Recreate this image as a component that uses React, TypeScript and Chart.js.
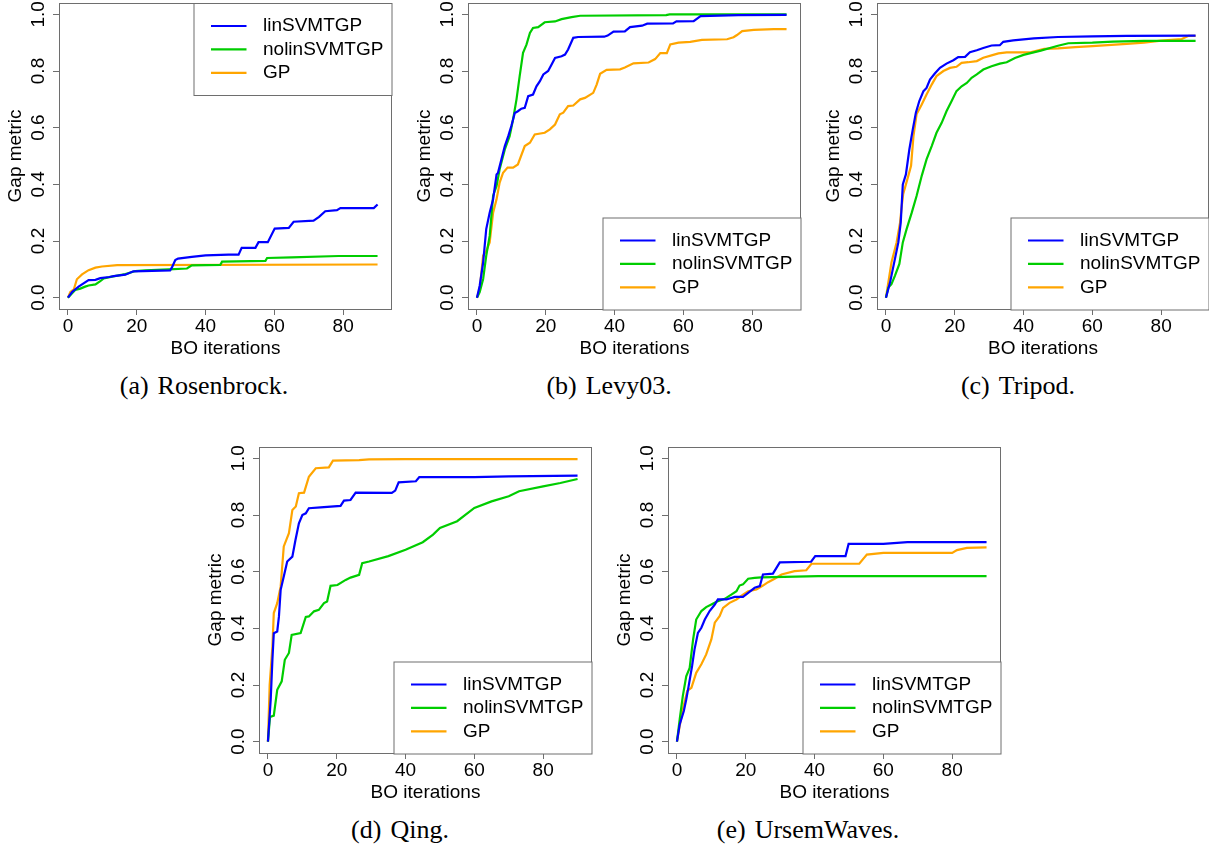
import React, { useEffect, useRef } from "react";
import { Chart, registerables } from "chart.js";

Chart.register(...registerables);

// ---------- shared labels / ticks ----------
const SERIES_LABELS = ["linSVMTGP", "nolinSVMTGP", "GP"];
const SERIES_COLORS = ["#0000FF", "#00CD00", "#FFA500"];
const X_TICKS = [0, 20, 40, 60, 80];
const Y_TICKS = [0, 0.2, 0.4, 0.6, 0.8, 1.0];
const X_AXIS_TITLE = "BO iterations";
const Y_AXIS_TITLE = "Gap metric";

// ---------- (a) Rosenbrock ----------
const rosenbrockLin = [[0,0],[1.2,0.02],[3.1,0.039],[6,0.062],[8,0.063],[9.4,0.069],[12,0.073],[13.3,0.076],[16.7,0.081],[19,0.093],[29.7,0.096],[30.2,0.106],[31.2,0.133],[32,0.138],[36,0.144],[40,0.149],[46.7,0.152],[49.6,0.152],[50.5,0.176],[54.5,0.176],[55.4,0.196],[58.1,0.196],[60.1,0.244],[64.2,0.246],[65.6,0.268],[71.4,0.272],[73,0.285],[74.8,0.305],[78.2,0.309],[79.2,0.316],[88.9,0.316],[90,0.329]];
const rosenbrockNolin = [[0,0],[2.1,0.027],[3.6,0.032],[5,0.039],[6,0.043],[8,0.047],[9.4,0.058],[10.4,0.068],[12.8,0.074],[16.7,0.083],[19.6,0.094],[22.5,0.096],[29.3,0.1],[34.6,0.103],[36,0.114],[44.3,0.116],[44.8,0.127],[57.4,0.13],[57.9,0.14],[65,0.142],[78.7,0.147],[90,0.147]];
const rosenbrockGP = [[0,0],[0.7,0.02],[1.7,0.029],[2.6,0.065],[4.1,0.082],[6,0.097],[8,0.106],[9.9,0.11],[14.3,0.115],[90,0.117]];

// ---------- (b) Levy03 ----------
const levyLin = [[0,0],[0.8,0.042],[1.8,0.124],[2.7,0.242],[3.7,0.3],[4.7,0.347],[5.7,0.435],[6.1,0.44],[7.1,0.488],[8.1,0.535],[9.1,0.57],[10,0.606],[11,0.652],[11.9,0.658],[12.9,0.667],[13.9,0.67],[14.9,0.711],[16.3,0.717],[17.3,0.746],[18.3,0.764],[19.3,0.788],[20.7,0.8],[21.7,0.823],[22.7,0.846],[24.6,0.852],[25.6,0.858],[26.5,0.876],[28,0.917],[29.4,0.92],[37,0.921],[38,0.925],[39.7,0.939],[43,0.94],[44.5,0.955],[48,0.96],[49.5,0.967],[57,0.968],[58,0.975],[63,0.976],[65,0.994],[76,0.997],[90,0.998]];
const levyNolin = [[0,0],[0.8,0.02],[1.8,0.066],[2.7,0.148],[3.7,0.218],[4.7,0.36],[5.7,0.394],[6.6,0.453],[8.1,0.523],[9.5,0.57],[10.5,0.629],[11.5,0.7],[12.4,0.78],[13.4,0.864],[14.4,0.893],[15.4,0.934],[16.3,0.952],[17.8,0.955],[19.7,0.972],[22.7,0.975],[24.6,0.983],[27.5,0.99],[30,0.995],[55,0.997],[56,1.0],[90,1.0]];
const levyGP = [[0,0],[0.8,0.03],[1.8,0.148],[2.7,0.165],[3.7,0.195],[4.7,0.3],[5.7,0.347],[6.6,0.406],[7.6,0.441],[8.9,0.459],[10.5,0.459],[11.9,0.47],[13.9,0.535],[15.4,0.547],[16.8,0.576],[19.7,0.582],[21.2,0.594],[22.7,0.611],[24.1,0.647],[25.1,0.653],[26.5,0.676],[28,0.678],[30,0.7],[31.4,0.705],[33.8,0.723],[34.8,0.752],[35.8,0.79],[37.7,0.804],[41.6,0.806],[43,0.812],[45.5,0.827],[49.9,0.83],[51.8,0.842],[53.3,0.863],[55.2,0.863],[56.2,0.894],[58.6,0.9],[62,0.903],[65.4,0.91],[72.7,0.912],[74.6,0.919],[75.6,0.927],[77.1,0.941],[80.5,0.945],[86.3,0.948],[90,0.948]];

// ---------- (c) Tripod ----------
const tripodLin = [[0,0],[1.2,0.054],[2.6,0.136],[3.6,0.195],[4.3,0.265],[4.9,0.4],[5.8,0.435],[6.8,0.523],[7.8,0.594],[8.7,0.653],[9.7,0.694],[10.9,0.729],[11.8,0.74],[12.8,0.77],[14.2,0.791],[15.7,0.811],[17.6,0.826],[19.6,0.838],[21,0.849],[23,0.85],[24.4,0.866],[26.4,0.873],[28.3,0.881],[30.7,0.89],[33.1,0.891],[34.1,0.903],[37,0.908],[43,0.915],[50,0.92],[60,0.922],[70,0.924],[90,0.925]];
const tripodNolin = [[0,0],[0.7,0.036],[1.6,0.048],[2.6,0.077],[3.9,0.119],[4.9,0.195],[6,0.242],[7.5,0.3],[8.9,0.359],[10.4,0.43],[11.8,0.488],[13.3,0.535],[14.7,0.582],[16.2,0.617],[17.6,0.658],[19.1,0.694],[20.5,0.729],[22,0.746],[23.5,0.758],[24.9,0.776],[26.4,0.788],[28.3,0.805],[30.7,0.817],[33.1,0.826],[35.1,0.831],[37.5,0.846],[40,0.857],[45,0.872],[50,0.889],[53,0.898],[60,0.9],[66,0.904],[75,0.906],[90,0.906]];
const tripodGP = [[0,0],[1.6,0.124],[3.1,0.195],[4.1,0.265],[4.6,0.324],[5,0.365],[6.5,0.43],[7.3,0.465],[8,0.57],[8.9,0.647],[10.4,0.682],[11.8,0.717],[13.3,0.752],[14.7,0.782],[16.7,0.8],[18.6,0.811],[20.5,0.815],[22,0.829],[23.9,0.831],[26.4,0.835],[28.3,0.847],[30.7,0.855],[32.7,0.862],[35.1,0.866],[42,0.866],[46,0.878],[50,0.88],[55,0.884],[60,0.888],[70,0.896],[75,0.9],[80,0.907],[86,0.913],[88,0.924],[90,0.924]];

// ---------- (d) Qing ----------
const qingLin = [[0,0],[0.8,0.148],[1.3,0.289],[1.7,0.383],[2.7,0.389],[3.2,0.442],[3.7,0.536],[4.6,0.583],[5.6,0.636],[7.1,0.653],[8,0.712],[9,0.771],[10,0.8],[11,0.806],[11.9,0.824],[15.3,0.827],[21.1,0.832],[22.1,0.851],[24,0.853],[25.5,0.879],[36,0.878],[37,0.886],[38,0.915],[43,0.919],[44,0.934],[60,0.934],[70,0.936],[90,0.939]];
const qingNolin = [[0,0],[0.6,0.087],[1.7,0.092],[2.7,0.183],[4,0.213],[4.9,0.289],[6.1,0.313],[6.9,0.377],[9.5,0.383],[11,0.44],[11.9,0.442],[13.4,0.46],[14.8,0.465],[16.3,0.489],[17.2,0.495],[18.2,0.55],[20.2,0.553],[22.6,0.571],[24,0.579],[26.5,0.589],[27.4,0.63],[29.4,0.636],[35,0.655],[40,0.677],[45,0.704],[48,0.731],[50,0.754],[55,0.778],[60,0.825],[65,0.848],[70,0.866],[73,0.884],[80,0.901],[85,0.913],[90,0.927]];
const qingGP = [[0,0],[0.5,0.2],[1.3,0.336],[1.7,0.454],[2.7,0.489],[3.7,0.548],[4.6,0.689],[6.1,0.736],[7.1,0.818],[8.1,0.83],[9,0.877],[10.5,0.879],[11.9,0.935],[13.9,0.965],[17.7,0.968],[18.9,0.992],[26.5,0.994],[29.4,0.996],[40,0.997],[90,0.997]];

// ---------- (e) UrsemWaves ----------
const ursemLin = [[0,0],[0.8,0.061],[2,0.108],[2.7,0.149],[3.4,0.196],[4.4,0.267],[5.1,0.325],[6.1,0.384],[7.1,0.402],[8.1,0.431],[9.5,0.461],[11,0.484],[11.9,0.502],[14.4,0.502],[16.8,0.511],[19.2,0.511],[20.7,0.525],[22.6,0.543],[24.1,0.549],[25,0.59],[27.9,0.593],[29.9,0.633],[39,0.635],[40.2,0.655],[49,0.655],[49.9,0.698],[60,0.698],[63,0.701],[67,0.704],[90,0.704]];
const ursemNolin = [[0,0],[0.8,0.079],[1.7,0.161],[2.7,0.231],[3.7,0.26],[4.7,0.361],[5.6,0.431],[7.1,0.461],[8.5,0.475],[10,0.484],[11.9,0.496],[13.9,0.504],[15.8,0.519],[17.3,0.531],[18.2,0.551],[19.2,0.555],[20.7,0.575],[22.6,0.578],[24.5,0.58],[41,0.584],[90,0.584]];
const ursemGP = [[0,0],[0.8,0.055],[1.7,0.114],[3,0.179],[4.2,0.19],[5.6,0.243],[7.1,0.273],[8.5,0.308],[10,0.361],[11,0.42],[12.4,0.443],[13.4,0.472],[15.3,0.49],[17.3,0.502],[19.2,0.519],[20.7,0.531],[23.1,0.537],[25,0.551],[26.5,0.563],[28.4,0.575],[30.4,0.59],[34.2,0.602],[37.6,0.605],[39.1,0.628],[53,0.628],[55.2,0.66],[60,0.666],[80,0.666],[81.4,0.676],[84.3,0.684],[90,0.686]];

// ---------- layout (positions only, not data) ----------
const SANS = "'Liberation Sans', Arial, Helvetica, sans-serif";
const SERIF = "'Liberation Serif', 'Times New Roman', serif";
const FRAME_COLOR = "#6e6e6e";
const Y_AXIS_W = 53;
const X_AXIS_H = 49;
const PAD_TOP = 2;
const PAD_RIGHT = 2;
const BOX_H = 306;

const PANELS = [
  { tag: "(a)", name: "Rosenbrock.", series: [rosenbrockLin, rosenbrockNolin, rosenbrockGP], legendAt: "top", left: 59, top: 3, width: 333, xMin: -2.6, xMax: 94.2, capX: 204, capBase: 395 },
  { tag: "(b)", name: "Levy03.", series: [levyLin, levyNolin, levyGP], legendAt: "bottom", left: 468, top: 3, width: 333, xMin: -2.6, xMax: 94.2, capX: 609, capBase: 395 },
  { tag: "(c)", name: "Tripod.", series: [tripodLin, tripodNolin, tripodGP], legendAt: "bottom", left: 877, top: 3, width: 332, xMin: -2.6, xMax: 93.9, capX: 1018, capBase: 395 },
  { tag: "(d)", name: "Qing.", series: [qingLin, qingNolin, qingGP], legendAt: "bottom", left: 259, top: 447, width: 333, xMin: -2.6, xMax: 94.2, capX: 400, capBase: 839 },
  { tag: "(e)", name: "UrsemWaves.", series: [ursemLin, ursemNolin, ursemGP], legendAt: "bottom", left: 668, top: 447, width: 333, xMin: -2.6, xMax: 94.2, capX: 808, capBase: 839 },
];

function makeRPlugin(legendAt: string) {
  return {
    id: "rStyle",
    afterDraw(chart: any) {
      const { ctx, chartArea: ca } = chart;
      ctx.save();
      // plot frame
      ctx.strokeStyle = FRAME_COLOR;
      ctx.lineWidth = 1;
      const l = Math.round(ca.left) + 0.5;
      const t = Math.round(ca.top) + 0.5;
      const r = Math.round(ca.right) - 0.5;
      const b = Math.round(ca.bottom) + 0.5;
      ctx.strokeRect(l, t, r - l, b - t);

      // rotated y tick labels (R style)
      const ys = chart.scales.y;
      ctx.fillStyle = "#000";
      ctx.font = `19px ${SANS}`;
      ctx.textAlign = "center";
      ctx.textBaseline = "middle";
      for (const tk of ys.ticks) {
        const py = ys.getPixelForValue(tk.value);
        ctx.save();
        ctx.translate(ca.left - 20, py);
        ctx.rotate(-Math.PI / 2);
        ctx.fillText(Number(tk.value).toFixed(1), 0, 0);
        ctx.restore();
      }

      // legend box
      const lw = 198;
      const lh = 92;
      const x0 = Math.round(r - lw);
      const y0 = legendAt === "top" ? t : Math.round(b - lh);
      ctx.fillStyle = "#fff";
      ctx.fillRect(x0, y0, lw, lh);
      ctx.strokeStyle = FRAME_COLOR;
      ctx.lineWidth = 1;
      ctx.strokeRect(x0, y0, lw, lh);
      chart.data.datasets.forEach((ds: any, k: number) => {
        const yy = y0 + 22.5 + k * 23.4;
        ctx.strokeStyle = ds.borderColor;
        ctx.lineWidth = 2.2;
        ctx.beginPath();
        ctx.moveTo(x0 + 17, yy);
        ctx.lineTo(x0 + 52.5, yy);
        ctx.stroke();
        ctx.fillStyle = "#000";
        ctx.textAlign = "left";
        ctx.textBaseline = "middle";
        ctx.font = `19px ${SANS}`;
        ctx.fillText(ds.label, x0 + 69, yy);
      });
      ctx.restore();
    },
  };
}

function Panel({ p }: { p: any }) {
  const ref = useRef<HTMLCanvasElement>(null);
  const cw = Y_AXIS_W + p.width + PAD_RIGHT;
  const chh = PAD_TOP + BOX_H + X_AXIS_H;
  useEffect(() => {
    const axisFont = { family: SANS, size: 19, lineHeight: 1 };
    const chart = new Chart(ref.current as HTMLCanvasElement, {
      type: "line",
      data: {
        datasets: p.series.map((pts: number[][], k: number) => ({
          label: SERIES_LABELS[k],
          data: pts.map(([x, y]) => ({ x, y })),
          borderColor: SERIES_COLORS[k],
          backgroundColor: SERIES_COLORS[k],
          borderWidth: 2.2,
          pointRadius: 0,
          tension: 0,
          fill: false,
        })),
      },
      options: {
        animation: false,
        responsive: false,
        maintainAspectRatio: false,
        events: [],
        layout: { padding: { top: PAD_TOP, right: PAD_RIGHT, left: 0, bottom: 0 } },
        plugins: { legend: { display: false }, tooltip: { enabled: false } },
        scales: {
          x: {
            type: "linear",
            min: p.xMin,
            max: p.xMax,
            afterBuildTicks: (s: any) => {
              s.ticks = X_TICKS.map((v) => ({ value: v }));
            },
            afterFit: (s: any) => {
              s.height = X_AXIS_H;
            },
            grid: { display: true, drawOnChartArea: false, drawTicks: true, tickLength: 6, color: FRAME_COLOR, lineWidth: 1 },
            border: { display: false },
            ticks: { font: axisFont, color: "#000", padding: 2, maxRotation: 0, minRotation: 0, autoSkip: false, callback: (v: any) => String(v) },
            title: { display: true, text: X_AXIS_TITLE, font: axisFont, color: "#000", padding: 0 },
          },
          y: {
            type: "linear",
            min: -0.04,
            max: 1.04,
            afterBuildTicks: (s: any) => {
              s.ticks = Y_TICKS.map((v) => ({ value: v }));
            },
            afterFit: (s: any) => {
              s.width = Y_AXIS_W;
            },
            grid: { display: true, drawOnChartArea: false, drawTicks: true, tickLength: 6, color: FRAME_COLOR, lineWidth: 1 },
            border: { display: false },
            ticks: { display: false },
            title: { display: true, text: Y_AXIS_TITLE, font: axisFont, color: "#000", padding: 0 },
          },
        },
      },
      plugins: [makeRPlugin(p.legendAt)],
    } as any);
    return () => chart.destroy();
  }, []);
  return (
    <canvas
      ref={ref}
      width={cw}
      height={chh}
      style={{ position: "absolute", left: p.left - Y_AXIS_W, top: p.top - PAD_TOP, width: cw, height: chh }}
    />
  );
}

export default function App() {
  return (
    <div style={{ position: "absolute", left: 0, top: 0, width: 1209, height: 850, overflow: "hidden", background: "#fff" }}>
      {PANELS.map((p, i) => (
        <Panel key={i} p={p} />
      ))}
      {PANELS.map((p, i) => (
        <div
          key={"c" + i}
          style={{
            position: "absolute",
            left: p.capX - 200,
            width: 400,
            top: p.capBase - 21.8,
            textAlign: "center",
            fontFamily: SERIF,
            fontSize: 26,
            lineHeight: "26px",
            color: "#000",
            whiteSpace: "nowrap",
          }}
        >
          <span>{p.tag}</span>
          <span style={{ marginLeft: 9 }}>{p.name}</span>
        </div>
      ))}
    </div>
  );
}
